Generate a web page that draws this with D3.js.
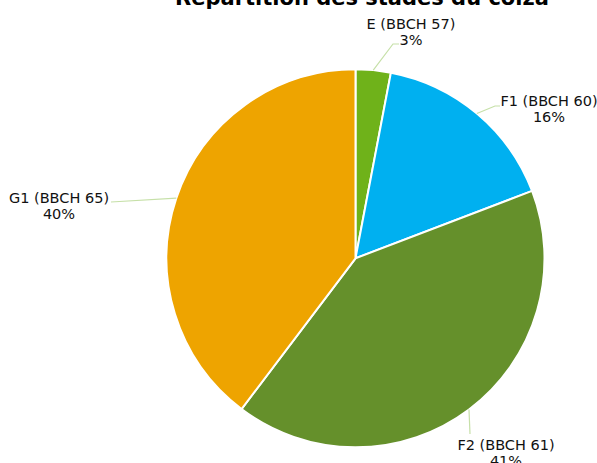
<!DOCTYPE html>
<html>
<head>
<meta charset="utf-8">
<script src="https://cdn.jsdelivr.net/npm/d3@7"></script>
<style>
  body { margin: 0; background: #fff; }
  svg { display: block; font-family: "DejaVu Sans", Verdana, sans-serif; }
</style>
</head>
<body>
<div id="chart"></div>
<script>
// données
const stades = ['E (BBCH 57)', 'F1 (BBCH 60)', 'F2 (BBCH 61)', 'G1 (BBCH 65)'];
const pourcentages = [3.0, 16.2, 41.1, 39.7];
const couleurs = ['#6fb21a', '#00b0f0', '#65902b', '#eea400'];

const width = 597, height = 463;
const cx = 355.5, cy = 258.3, rayon = 189;

// position des étiquettes (x centre du texte, y ligne de base) et coude du trait
const etiquettes = [
    { tx: 411, ty: 29, ex: 393, ey: 44, fx: 399, fy: 44 },
    { tx: 549, ty: 106, ex: 495, ey: 106, fx: 500, fy: 106 },
    { tx: 506, ty: 450, ex: 470, ey: 434, fx: 470, fy: 434 },
    { tx: 59, ty: 203, ex: 111, ey: 202, fx: 111, fy: 202 }
];

const svg = d3.select('#chart').append('svg')
    .attr('width', width).attr('height', height);

svg.append('text')
    .attr('x', 362).attr('y', 5)
    .attr('text-anchor', 'middle')
    .attr('font-size', '21px').attr('font-weight', 'bold')
    .attr('fill', '#000')
    .text('Répartition des stades du colza');

const data = stades.map((s, i) => ({ stade: s, valeur: pourcentages[i], couleur: couleurs[i], lab: etiquettes[i] }));

const pie = d3.pie().value(d => d.valeur).sort(null);
const arc = d3.arc().innerRadius(0).outerRadius(rayon);
const arcs = pie(data);

const g = svg.append('g').attr('transform', `translate(${cx},${cy})`);

g.selectAll('path').data(arcs).enter().append('path')
    .attr('d', arc)
    .attr('fill', d => d.data.couleur)
    .attr('stroke', '#fff').attr('stroke-width', 2);

// traits de rappel + étiquettes
const total = d3.sum(pourcentages);
arcs.forEach(d => {
    const a = (d.startAngle + d.endAngle) / 2;
    const px = cx + rayon * Math.sin(a), py = cy - rayon * Math.cos(a);
    const l = d.data.lab;
    svg.append('polyline')
        .attr('points', `${px},${py} ${l.ex},${l.ey} ${l.fx},${l.fy}`)
        .attr('fill', 'none').attr('stroke', '#c6e0a8').attr('stroke-width', 1.2);

    const t = svg.append('text')
        .attr('text-anchor', 'middle')
        .attr('font-size', '14.5px').attr('fill', '#111');
    t.append('tspan').attr('x', l.tx).attr('y', l.ty).text(d.data.stade);
    t.append('tspan').attr('x', l.tx).attr('y', l.ty + 16)
        .text(Math.round(d.data.valeur / total * 100) + '%');
});
</script>
</body>
</html>
